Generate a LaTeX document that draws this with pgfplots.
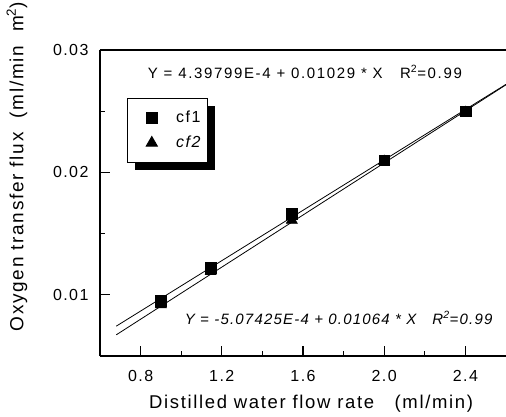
\documentclass[border=0pt]{standalone}
\usepackage{pgfplots}
\pgfplotsset{compat=1.18}
\usepackage{fontspec}
\setmainfont{Liberation Sans}[LetterSpace=9]
\newfontfamily\eqfont{Liberation Sans}[LetterSpace=11]
\newfontfamily\eqfontit{Liberation Sans}[LetterSpace=8]
\usetikzlibrary{shadows}

\begin{document}
\begin{tikzpicture}
\begin{axis}[
    name=ax,
    scale only axis,
    width=406bp, height=306bp,
    xmin=0.6, xmax=2.6,
    ymin=0.005, ymax=0.03,
    axis x line*=bottom, axis y line*=left,
    axis line style={line width=1.5pt},
    xtick={0.8,1.2,1.6,2.0,2.4},
    xticklabels={0.8,1.2,1.6,2.0,2.4},
    minor xtick={1.0,1.4,1.8,2.2},
    ytick={0.01,0.02,0.03},
    yticklabels={0.01,0.02,0.03},
    scaled y ticks=false,
    minor ytick={0.015,0.025},
    tick align=inside,
    major tick length=10bp, minor tick length=5bp,
    tick style={line width=1.2pt, black},
    /pgf/number format/assume math mode=true,
    tick label style={font=\fontsize{16bp}{18bp}\selectfont},
    xticklabel style={yshift=-11bp},
    yticklabel style={xshift=-8bp},
    xlabel={Distilled water flow rate \ \ (ml/min)},
    ylabel={Oxygen transfer flux \ (ml/min \ m\textsuperscript{2})},
    every axis x label/.style={at={(rel axis cs:0.52,0)}, yshift=-48bp, anchor=center,
        font=\fontsize{18.5bp}{20bp}\selectfont},
    every axis y label/.style={at={(rel axis cs:0,0.619)}, xshift=-83bp, rotate=90, anchor=center,
        font=\fontsize{19bp}{21bp}\selectfont},
    legend image code/.code={
        \path (0bp,0bp) (40bp,0bp);
        \draw[#1, mark repeat=2, mark phase=2] plot coordinates {(0bp,0bp) (24bp,0bp) (40bp,0bp)};
    },
    legend style={at={(rel axis cs:0.0665,0.843)}, anchor=north west,
        draw=black, line width=0.8pt, fill=white,
        general shadow={fill=black, shadow xshift=8bp, shadow yshift=-8bp},
        font=\fontsize{16bp}{18bp}\selectfont,
        nodes={inner sep=0pt, minimum height=25bp},
        inner xsep=0bp, inner ysep=7bp, row sep=0bp, column sep=8bp},
    legend cell align=left,
]
% fitted lines
\addplot[black, line width=0.8pt, forget plot] coordinates {(0.68,0.007437) (2.6,0.027194)};
\addplot[black, line width=0.8pt, forget plot] coordinates {(0.68,0.006728) (2.6,0.027157)};
% measured points
\addplot[only marks, mark=square*, mark size=5.4bp, black] coordinates {
    (0.9,0.00955) (1.145,0.0122) (1.545,0.0166) (2.0,0.0210) (2.4,0.0250)
};
\addlegendentry{\makebox[31bp][l]{cf1}}
\addplot[only marks, mark=triangle*, mark size=6.5bp, black] coordinates {
    (0.9,0.0092) (1.145,0.0119) (1.545,0.0161) (2.0,0.0209) (2.4,0.0249)
};
\addlegendentry{\makebox[31bp][l]{\itshape cf2}}
\draw[line width=1.5pt] (rel axis cs:0,1) -- (rel axis cs:1,1);
\node[anchor=base west, inner sep=0pt, font=\fontsize{15bp}{17bp}\eqfont] at (axis cs:0.835,0.0277)
    {Y = 4.39799E-4 + 0.01029 * X \ \ R\textsuperscript{2}=0.99};
\node[anchor=base west, inner sep=0pt, font=\fontsize{15bp}{17bp}\eqfontit\itshape] at (axis cs:1.017,0.00761)
    {Y = -5.07425E-4 + 0.01064 * X \ \ R\textsuperscript{2}=0.99};
\end{axis}
\pgfresetboundingbox
\path ([xshift=-100bp,yshift=-61bp]ax.south west) rectangle ([yshift=50bp]ax.north east);
\end{tikzpicture}
\end{document}
